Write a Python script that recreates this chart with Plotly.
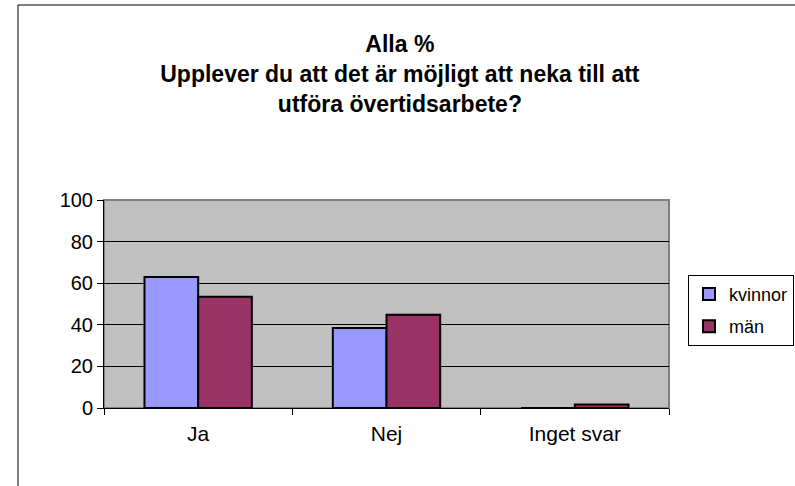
import plotly.graph_objects as go

categories = ["Ja", "Nej", "Inget svar"]
kvinnor = [63, 38.5, 0]
man = [53.5, 44.8, 1.7]
y_ticks = [0, 20, 40, 60, 80, 100]

W, H = 795, 486
L, R, T, B = 104, 126, 200, 78
pw, ph = W - L - R, H - T - B

fig = go.Figure()
fig.add_trace(go.Bar(name="kvinnor", x=categories, y=kvinnor, legendgroup="k",
                     marker=dict(color="#9999FF", line=dict(color="black", width=2))))
fig.add_trace(go.Bar(name="män", x=categories, y=man, legendgroup="m",
                     marker=dict(color="#993366", line=dict(color="black", width=2))))

fig.update_layout(
    width=W, height=H,
    margin=dict(l=L, r=R, t=T, b=B, autoexpand=False),
    paper_bgcolor="white", plot_bgcolor="#C0C0C0",
    font=dict(family="Liberation Sans, Arial", size=19, color="black"),
    title=dict(
        text="Alla %<br>Upplever du att det är möjligt att neka till att<br>utföra övertidsarbete?",
        x=0.503, xanchor="center", y=1 - 52 / H, yanchor="top",
        font=dict(family="Liberation Sans, Arial", size=23, color="black", weight="bold"),
    ),
    barmode="group", bargap=0.43, bargroupgap=0,
    showlegend=True,
    legend=dict(x=(W - L - 1) / pw, xanchor="right", y=0.47, yanchor="middle",
                bordercolor="black", borderwidth=1, bgcolor="white",
                font=dict(size=18), itemwidth=30, traceorder="grouped",
                tracegroupgap=6),
)
fig.update_xaxes(type="category", tickson="boundaries", ticks="outside", ticklen=6,
                 tickcolor="black", showline=True, linecolor="black", linewidth=1,
                 showgrid=False, mirror=False, tickfont=dict(size=21),
                 ticklabelstandoff=7)
fig.update_yaxes(range=[0, 100], tickvals=y_ticks, ticks="outside", ticklen=6,
                 tickcolor="black", showline=True, linecolor="black", linewidth=1,
                 showgrid=True, gridcolor="black", gridwidth=1, zeroline=False,
                 tickfont=dict(size=20))
# plot area border (gray)
fig.add_shape(type="rect", xref="paper", yref="paper", x0=0, x1=1, y0=0, y1=1,
              line=dict(color="#808080", width=2), layer="below")
# chart frame
fig.add_shape(type="rect", xref="paper", yref="paper",
              x0=(18 - L) / pw, x1=(W + 5 - L) / pw,
              y0=-(B + 5) / ph, y1=1 + (T - 5) / ph,
              line=dict(color="black", width=1))

fig.write_html("out.html", config={"displayModeBar": False},
               post_script="document.body.style.margin='0';")
